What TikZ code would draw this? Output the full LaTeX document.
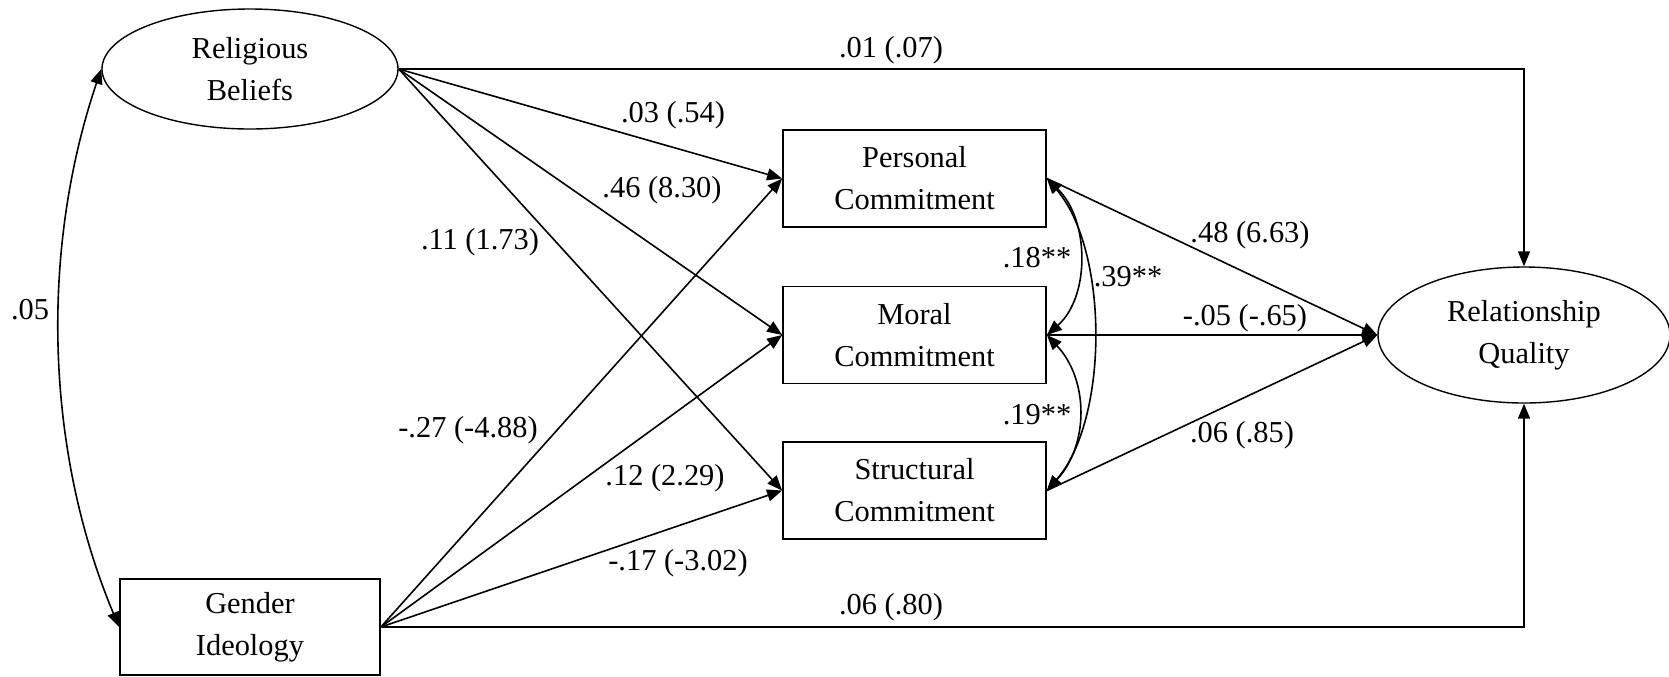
\documentclass[tikz,border=0pt]{standalone}
\usepackage{fontspec}
\setmainfont{Liberation Serif}
\usetikzlibrary{shapes.geometric,arrows.meta}
\begin{document}
\begin{tikzpicture}[x=0.5pt,y=-0.5pt,
  every node/.style={font=\fontsize{15.2}{21}\selectfont},
  lat/.style={ellipse,draw,line width=0.7pt,align=center,inner sep=0pt},
  obs/.style={rectangle,draw,line width=0.9pt,align=center,inner sep=0pt,minimum width=131.5pt,minimum height=48.5pt},
  tip/.style={Triangle[length=7.5pt,width=6pt]},
  pathline/.style={line width=0.8pt,-{Triangle[length=7.5pt,width=6pt]}},
  covline/.style={line width=0.8pt,{Triangle[length=7.5pt,width=6pt]}-{Triangle[length=7.5pt,width=6pt]}},
  lbl/.style={inner sep=0pt}]
\useasboundingbox (0,0) rectangle (1669,676);

% nodes
\node[lat,minimum width=148pt,minimum height=60pt] (RB) at (250,69) {Religious\\Beliefs};
\node[obs,minimum width=130pt,minimum height=48pt] (GI) at (250,627) {Gender\\Ideology};
\node[obs] (PC) at (914.5,178.5) {Personal\\Commitment};
\node[obs] (MC) at (914.5,335) {Moral\\Commitment};
\node[obs] (SC) at (914.5,490.5) {Structural\\Commitment};
\node[lat,minimum width=146pt,minimum height=68pt] (RQ) at (1524,335) {Relationship\\Quality};

% direct paths to relationship quality
\draw[pathline] (RB.east) -- (RB.east -| RQ.north) -- (RQ.north);
\draw[pathline] (GI.east) -- (GI.east -| RQ.south) -- (RQ.south);

% religious beliefs -> commitments
\draw[pathline] (RB.east) -- (PC.west);
\draw[pathline] (RB.east) -- (MC.west);
\draw[pathline] (RB.east) -- (SC.west);

% gender ideology -> commitments
\draw[pathline] (GI.east) -- (PC.west);
\draw[pathline] (GI.east) -- (MC.west);
\draw[pathline] (GI.east) -- (SC.west);

% commitments -> relationship quality
\draw[pathline] (PC.east) -- (RQ.west);
\draw[pathline] (MC.east) -- (RQ.west);
\draw[pathline] (SC.east) -- (RQ.west);

% covariances
\draw[covline] (RB.west) .. controls (40,250) and (45,450) .. (GI.west);
\draw[covline] (PC.east) .. controls (1090,220) and (1090,297) .. (MC.east);
\draw[covline] (MC.east) .. controls (1089,380) and (1089,445) .. (SC.east);
\draw[covline] (PC.east) .. controls (1109,250) and (1109,420) .. (SC.east);

% labels
\node[lbl] (l01) at (891,50) {.01 (.07)};
\node[lbl] (l03) at (673,115) {.03 (.54)};
\node[lbl] (l46) at (662,190) {.46 (8.30)};
\node[lbl] (l11) at (480,242) {.11 (1.73)};
\node[lbl] (l27) at (468,430) {-.27 (-4.88)};
\node[lbl] (l12) at (665,478) {.12 (2.29)};
\node[lbl] (l17) at (678,563) {-.17 (-3.02)};
\node[lbl] (l06b) at (891,607) {.06 (.80)};
\node[lbl] (l05) at (30,310) {.05};
\node[lbl] (l18) at (1037,258) {.18**};
\node[lbl] (l39) at (1128,277) {.39**};
\node[lbl] (l19) at (1037,415) {.19**};
\node[lbl] (l48) at (1250,235) {.48 (6.63)};
\node[lbl] (l05b) at (1245,318) {-.05 (-.65)};
\node[lbl] (l06) at (1242,435) {.06 (.85)};
\end{tikzpicture}
\end{document}
